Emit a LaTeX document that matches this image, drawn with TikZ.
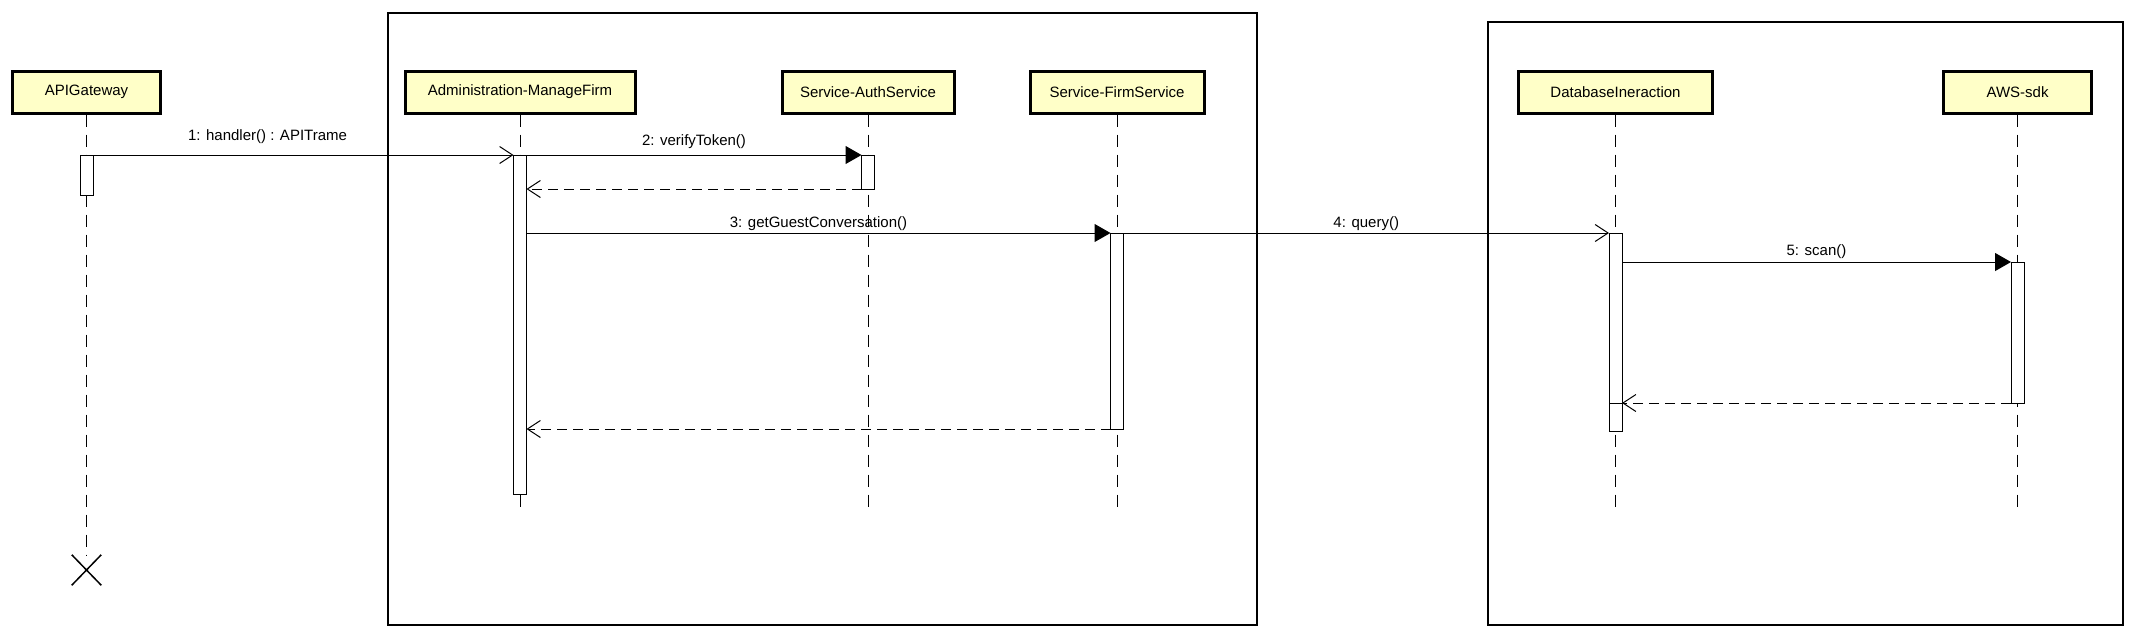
\documentclass[tikz,border=0pt]{standalone}
\usepackage{fontspec}
\setmainfont{Liberation Sans}
\usetikzlibrary{arrows.meta}
\usetikzlibrary{shapes.misc}
\definecolor{boxyellow}{RGB}{255,255,200}

\begin{document}
\begin{tikzpicture}[x=1pt,y=-1pt,
		lifebox/.style={draw, line width=3pt, fill=boxyellow, minimum height=42pt, inner sep=0pt, font=\fontsize{15}{18}\selectfont},
		lifeline/.style={line width=0.9pt, dash pattern=on 12pt off 8pt},
		actbox/.style={draw, line width=1pt, fill=white, minimum width=13pt, inner sep=0pt, outer sep=0pt},
		callmsg/.style={line width=1pt, -{Triangle[length=16pt,width=18pt]}},
		asyncmsg/.style={line width=1pt, -{Straight Barb[length=13pt,width=17pt]}},
		retmsg/.style={line width=1pt, dash pattern=on 10pt off 6pt, -{Straight Barb[length=13pt,width=17pt]}},
		msglabel/.style={font=\fontsize{15}{18}\selectfont, inner sep=0pt}]
			\useasboundingbox (0,0) rectangle (2136,638);
			% draw frames
			\draw[line width=1.2pt] (388,13) rectangle (1257,625);
			\draw[line width=1.2pt] (1488,22) rectangle (2123,625);
			% draw participants
			\node[lifebox, minimum width=148pt] (api) at (86.5,92) {APIGateway};
			\node[lifebox, minimum width=230pt] (admin) at (520,92) {Administration-ManageFirm};
			\node[lifebox, minimum width=172pt] (auth) at (868,92) {Service-AuthService};
			\node[lifebox, minimum width=174pt] (firm) at (1117,92) {Service-FirmService};
			\node[lifebox, minimum width=194pt] (db) at (1615.5,92) {DatabaseIneraction};
			\node[lifebox, minimum width=148pt] (aws) at (2017.5,92) {AWS-sdk};
			% draw lifelines
			\coordinate (bottom) at (0,512);
			\node[draw, cross out, line width=1.5pt, minimum width=28pt, minimum height=29pt, inner sep=0pt] (apiend) at (86.5,570) {};
			\draw[lifeline] (api.south) -- (apiend.north);
			\foreach \n in {admin,auth,firm,db,aws}
				\draw[lifeline] (\n.south) -- (\n.south |- bottom);
			% draw activations
			\node[actbox, minimum height=40pt] (apiact) at (86.5,175) {};
			\node[actbox, minimum height=339pt] (adminact) at (520,324.5) {};
			\node[actbox, minimum height=34pt] (authact) at (868,172) {};
			\node[actbox, minimum height=196pt] (firmact) at (1117,331) {};
			\node[actbox, minimum height=198pt] (dbact) at (1615.5,332) {};
			\node[actbox, minimum height=28pt] (dbnest) at (1615.5,417) {};
			\node[actbox, minimum height=141pt] (awsact) at (2017.5,332.5) {};
			% draw messages
			\draw[asyncmsg] (apiact.north east) -- node[msglabel, pos=0.415, above=11pt] {1: handler() : APITrame} (adminact.north west);
			\draw[callmsg] (adminact.north east) -- node[msglabel, above=6pt] {2: verifyToken()} (authact.north west);
			\draw[retmsg] (authact.south west) -- (adminact.east |- authact.south);
			\draw[callmsg] (adminact.east |- firmact.north) -- node[msglabel, above=2pt] {3: getGuestConversation()} (firmact.north west);
			\draw[asyncmsg] (firmact.north east) -- node[msglabel, above=2pt] {4: query()} (dbact.north west);
			\draw[callmsg] (dbact.east |- awsact.north) -- node[msglabel, above=3pt] {5: scan()} (awsact.north west);
			\draw[retmsg] (awsact.south west) -- (dbnest.east |- awsact.south);
			\draw[retmsg] (firmact.south west) -- (adminact.east |- firmact.south);
		\end{tikzpicture}
\end{document}
